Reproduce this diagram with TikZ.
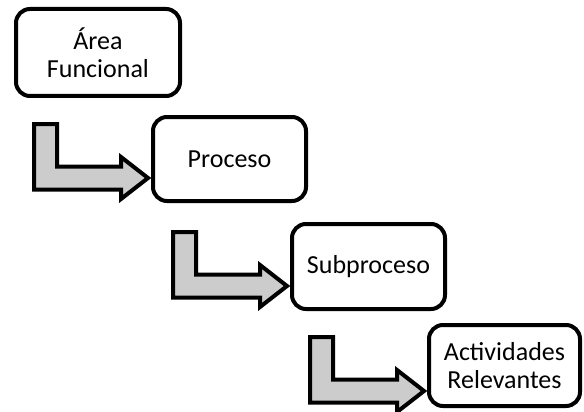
\documentclass[tikz,border=0pt]{standalone}
\usepackage{fontspec}
\setmainfont{Carlito}
\definecolor{arrowgray}{RGB}{204,204,204}
\begin{document}
\begin{tikzpicture}[x=1pt,y=-1pt,
  box/.style={draw=black,line width=4pt,rounded corners=14pt,fill=white,
    align=center,font=\fontsize{26}{28}\selectfont,inner sep=0pt},
  larrow/.style={draw=black,fill=arrowgray,line width=4pt,line join=miter}]
\useasboundingbox (0,0) rectangle (584,412);
\node[box,minimum width=164pt,minimum height=87pt] (b1) at (98,52.5) {Área\\Funcional};
\node[box,minimum width=153pt,minimum height=84pt] (b2) at (229.5,159) {Proceso};
\node[box,minimum width=153pt,minimum height=85pt] (b3) at (368.5,266.5) {Subproceso};
\node[box,minimum width=151pt,minimum height=81pt] (b4) at (504.5,365.5) {Actividades\\Relevantes};
\coordinate (t1) at (148,178);
\coordinate (t2) at (287,286);
\coordinate (t3) at (424,391);
\foreach \t in {t1,t2,t3}{
  \begin{scope}[shift={(\t)}]
    \draw[larrow] (-114,-54) -- (-91,-54) -- (-91,-11.5) -- (-27,-11.5) -- (-27,-21)
      -- (0,0) -- (-27,21) -- (-27,11.5) -- (-114,11.5) -- cycle;
  \end{scope}
}
\end{tikzpicture}
\end{document}
